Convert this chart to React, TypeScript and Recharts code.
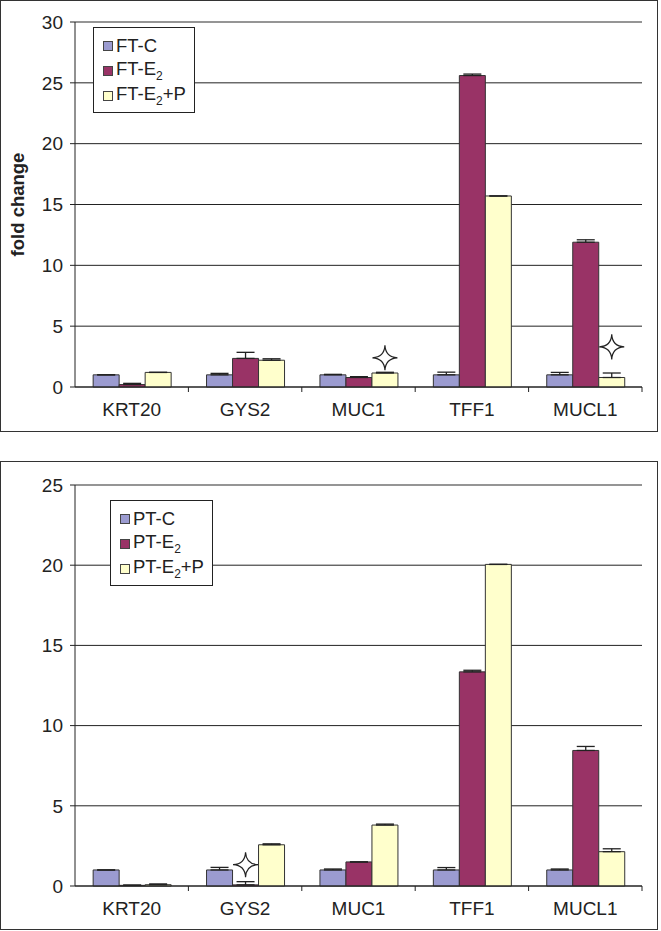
import React from 'react';
import { BarChart, Bar, XAxis, YAxis, CartesianGrid, Legend, ErrorBar, LabelList, ReferenceLine } from 'recharts';

// gene categories on the x axis
const categories = ['KRT20', 'GYS2', 'MUC1', 'TFF1', 'MUCL1'];

// upper panel (FT)
const ftC = [1.0, 1.0, 1.0, 1.0, 1.0];
const ftCErr = [0, 0.12, 0.04, 0.22, 0.2];
const ftE2 = [0.2, 2.35, 0.78, 25.6, 11.9];
const ftE2Err = [0.1, 0.5, 0.07, 0.12, 0.2];
const ftE2P = [1.2, 2.2, 1.15, 15.7, 0.78];
const ftE2PErr = [0, 0.12, 0.06, 0, 0.37];
const ftStars = [null, null, 2.4, null, 3.3]; // marker level above FT-E2+P bar
const ftTicks = [0, 5, 10, 15, 20, 25, 30];

// lower panel (PT)
const ptC = [1.0, 1.0, 1.0, 1.0, 1.0];
const ptCErr = [0, 0.16, 0.06, 0.15, 0.06];
const ptE2 = [0.04, 0.07, 1.5, 13.35, 8.45];
const ptE2Err = [0.02, 0.2, 0, 0.1, 0.25];
const ptE2P = [0.08, 2.57, 3.8, 20.05, 2.14];
const ptE2PErr = [0.05, 0.06, 0.06, 0, 0.18];
const ptStars = [null, 1.33, null, null, null]; // marker level above PT-E2 bar
const ptTicks = [0, 5, 10, 15, 20, 25];

const COLORS = { c: '#9b9bd0', e2: '#993366', p: '#ffffcc' };
const FONT = '"Liberation Sans", Arial, sans-serif';
const INK = '#222';
const FS = 19;

const CHART_W = 658;
const M_LEFT = 30;
const Y_W = 45;
const M_RIGHT = 16;
const HALF_BAND = (CHART_W - M_LEFT - Y_W - M_RIGHT) / categories.length / 2;

const buildRows = (
  c: number[], cErr: number[], e2: number[], e2Err: number[],
  p: number[], pErr: number[], stars: (number | null)[]
) =>
  categories.map((name, i) => ({
    name,
    c: c[i],
    cErr: [0, cErr[i]],
    e2: e2[i],
    e2Err: [0, e2Err[i]],
    p: p[i],
    pErr: [0, pErr[i]],
    star: stars[i],
  }));

const ftRows = buildRows(ftC, ftCErr, ftE2, ftE2Err, ftE2P, ftE2PErr, ftStars);
const ptRows = buildRows(ptC, ptCErr, ptE2, ptE2Err, ptE2P, ptE2PErr, ptStars);

const withSub = (label: string) => {
  const idx = label.indexOf('E2');
  if (idx < 0) return label;
  return (
    <>
      {label.slice(0, idx)}E<sub style={{ fontSize: 12 }}>2</sub>
      {label.slice(idx + 2)}
    </>
  );
};

const LegendBox = (props: any) => {
  const items = props.payload || [];
  return (
    <div
      style={{
        border: `1px solid ${INK}`,
        background: '#fff',
        padding: '5px 8px 4px 9px',
        fontFamily: FONT,
        fontSize: 18.5,
        color: INK,
      }}
    >
      {items.map((it: any) => (
        <div key={it.value} style={{ display: 'flex', alignItems: 'center', height: 25, whiteSpace: 'nowrap' }}>
          <span
            style={{
              display: 'inline-block',
              width: 8,
              height: 8,
              background: it.color,
              border: '1px solid #444',
              marginRight: 3,
            }}
          />
          <span>{withSub(it.value)}</span>
        </div>
      ))}
    </div>
  );
};

const CategoryTick = (props: any) => {
  const { x, y, payload } = props;
  const axisY = y - 16;
  return (
    <g>
      <line x1={x + HALF_BAND} x2={x + HALF_BAND} y1={axisY} y2={axisY + 5} stroke={INK} />
      <text x={x} y={y} dy="0.71em" textAnchor="middle" fill={INK} fontSize={FS} fontFamily={FONT}>
        {payload.value}
      </text>
    </g>
  );
};

const starContent = (rows: any[], key: string) => (props: any) => {
  const { index, value } = props;
  if (value == null) return null;
  const vb = props.viewBox || props;
  const barVal = rows[index][key];
  const base = vb.y + vb.height;
  const unit = vb.height / barVal;
  const cx = vb.x + vb.width / 2;
  const cy = base - value * unit;
  const R = 12.5;
  const r = 0.6;
  const d = `M${cx},${cy - R} Q${cx + r},${cy - r} ${cx + R},${cy} Q${cx + r},${cy + r} ${cx},${cy + R} Q${cx - r},${cy + r} ${cx - R},${cy} Q${cx - r},${cy - r} ${cx},${cy - R} Z`;
  return <path d={d} fill="#fff" stroke={INK} strokeWidth={1.2} strokeLinejoin="miter" />;
};

interface PanelProps {
  rows: any[];
  ticks: number[];
  names: string[];
  height: number;
  top: number;
  bottom: number;
  legendPos: { left: number; top: number };
  starOn: 'e2' | 'p';
  yLabel?: string;
}

const Panel: React.FC<PanelProps> = ({ rows, ticks, names, height, top, bottom, legendPos, starOn, yLabel }) => {
  const max = ticks[ticks.length - 1];
  const bars = [
    { key: 'c', err: 'cErr', fill: COLORS.c, name: names[0] },
    { key: 'e2', err: 'e2Err', fill: COLORS.e2, name: names[1] },
    { key: 'p', err: 'pErr', fill: COLORS.p, name: names[2] },
  ];
  return (
    <div style={{ position: 'relative', width: CHART_W, height }}>
      <div
        style={{
          position: 'absolute',
          left: 0,
          top: 0,
          width: CHART_W,
          height,
          border: '1.5px solid #333',
          boxSizing: 'border-box',
        }}
      />
      <div style={{ position: 'absolute', left: 0, top: 0 }}>
        <BarChart
          width={CHART_W}
          height={height}
          data={rows}
          margin={{ top, right: M_RIGHT, left: M_LEFT, bottom }}
          barCategoryGap="16%"
          barGap={0}
        >
          <CartesianGrid vertical={false} stroke={INK} strokeWidth={1} />
          <ReferenceLine y={max} stroke="#999" strokeWidth={1} />
          <XAxis
            dataKey="name"
            height={30}
            axisLine={{ stroke: INK }}
            tickLine={false}
            tickSize={0}
            tickMargin={16}
            tick={<CategoryTick />}
            interval={0}
          />
          <YAxis
            width={Y_W}
            domain={[0, max]}
            ticks={ticks}
            interval={0}
            axisLine={{ stroke: INK }}
            tickLine={{ stroke: INK }}
            tickSize={5}
            tickMargin={7}
            tick={{ fontSize: FS, fill: INK, fontFamily: FONT }}
            label={
              yLabel
                ? {
                    value: yLabel,
                    angle: -90,
                    position: 'insideLeft',
                    offset: -13,
                    style: { textAnchor: 'middle', fontWeight: 'bold', fontSize: 18.5, fill: INK, fontFamily: FONT },
                  }
                : undefined
            }
          />
          <YAxis
            yAxisId="frame"
            orientation="right"
            width={0}
            tick={false}
            tickLine={false}
            axisLine={{ stroke: '#999' }}
          />
          <Legend
            layout="vertical"
            align="center"
            verticalAlign="middle"
            content={<LegendBox />}
            wrapperStyle={{ left: legendPos.left, top: legendPos.top, width: 'auto' }}
          />
          {bars.map((b) => (
            <Bar
              key={b.key}
              dataKey={b.key}
              name={b.name}
              fill={b.fill}
              stroke="#333"
              strokeWidth={1}
              isAnimationActive={false}
            >
              <ErrorBar dataKey={b.err} width={9} stroke={INK} strokeWidth={1.3} direction="y" />
              {b.key === starOn && <LabelList dataKey="star" content={starContent(rows, b.key)} />}
            </Bar>
          ))}
        </BarChart>
      </div>
    </div>
  );
};

export default function App() {
  return (
    <div style={{ position: 'absolute', left: 0, top: 0, width: 661, height: 931, background: '#fff', fontFamily: FONT }}>
      <style>{'body{margin:0;}'}</style>
      <Panel
        rows={ftRows}
        ticks={ftTicks}
        names={['FT-C', 'FT-E2', 'FT-E2+P']}
        height={432}
        top={22}
        bottom={15}
        legendPos={{ left: 93, top: 27 }}
        starOn="p"
        yLabel="fold change"
      />
      <div style={{ position: 'absolute', left: 0, top: 461 }}>
        <Panel
          rows={ptRows}
          ticks={ptTicks}
          names={['PT-C', 'PT-E2', 'PT-E2+P']}
          height={469}
          top={24}
          bottom={14}
          legendPos={{ left: 110, top: 39 }}
          starOn="e2"
        />
      </div>
    </div>
  );
}
